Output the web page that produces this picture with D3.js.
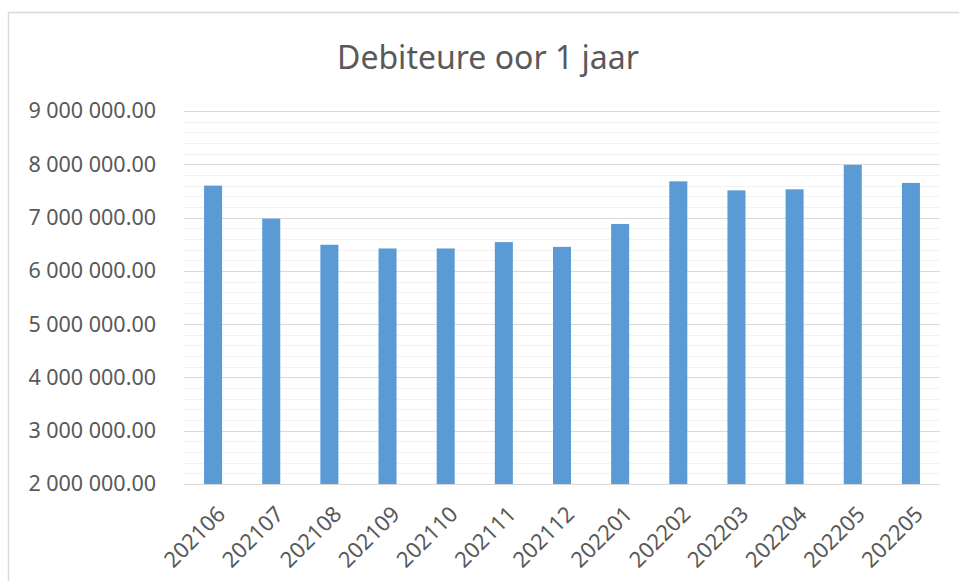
<!DOCTYPE html>
<html>
<head>
<meta charset="utf-8">
<script src="https://cdn.jsdelivr.net/npm/d3@7"></script>
<style>
  body { margin: 0; background: #fff; }
  svg { display: block; font-family: "Noto Sans", "Open Sans", sans-serif; }
</style>
</head>
<body>
<svg width="959" height="581"></svg>
<script>
// data
const months = ["202106", "202107", "202108", "202109", "202110", "202111", "202112",
  "202201", "202202", "202203", "202204", "202205", "202205"];
const debtors = [7600000, 6980000, 6490000, 6420000, 6420000, 6540000, 6450000,
  6880000, 7680000, 7510000, 7530000, 7990000, 7650000];
const yTicks = [2e6, 3e6, 4e6, 5e6, 6e6, 7e6, 8e6, 9e6];

const svg = d3.select("svg");
const width = 959;
const height = 581;

// chart frame
svg.append("rect")
  .attr("x", 8.5).attr("y", 12.5)
  .attr("width", width).attr("height", height)
  .attr("fill", "#fff")
  .attr("stroke", "#d9d9d9")
  .attr("stroke-width", 1.5);

svg.append("text")
  .attr("x", 488).attr("y", 69)
  .attr("text-anchor", "middle")
  .attr("fill", "#595959")
  .style("font-size", "32px")
  .text("Debiteure oor 1 jaar");

const x = d3.scaleBand()
  .domain(d3.range(months.length))
  .range([184, 940])
  .paddingInner(0.69)
  .paddingOuter(0.345);

const y = d3.scaleLinear().domain([2e6, 9e6]).range([484, 111]);

const locale = d3.formatLocale({ decimal: ".", thousands: " ", grouping: [3], currency: ["", ""] });
const fmt = locale.format(",.2f");

// minor gridlines every 200 000
svg.append("g")
  .selectAll("line")
  .data(d3.range(2e6, 9e6 + 1, 2e5).filter(v => v % 1e6 !== 0))
  .join("line")
  .attr("x1", 184).attr("x2", 940)
  .attr("y1", d => Math.round(y(d)) + 0.5)
  .attr("y2", d => Math.round(y(d)) + 0.5)
  .attr("stroke", "#f2f2f2");

// major gridlines
svg.append("g")
  .selectAll("line")
  .data(yTicks)
  .join("line")
  .attr("x1", 184).attr("x2", 940)
  .attr("y1", d => Math.round(y(d)) + 0.5)
  .attr("y2", d => Math.round(y(d)) + 0.5)
  .attr("stroke", "#d9d9d9")
  .attr("stroke-width", 1.2);

// bars
svg.append("g")
  .selectAll("rect")
  .data(debtors)
  .join("rect")
  .attr("x", (d, i) => x(i))
  .attr("y", d => y(d))
  .attr("width", x.bandwidth())
  .attr("height", d => y(2e6) - y(d))
  .attr("fill", "#5b9bd5");

// y axis
const yAxis = svg.append("g")
  .attr("transform", "translate(184,0)")
  .call(d3.axisLeft(y).tickValues(yTicks).tickFormat(fmt).tickSize(0).tickPadding(28));
yAxis.select(".domain").remove();
yAxis.selectAll("text")
  .attr("fill", "#595959")
  .style("font-size", "21.5px")
  .style("font-family", "\"Noto Sans\", sans-serif");

// x axis
const xAxis = svg.append("g")
  .attr("transform", "translate(0,484)")
  .call(d3.axisBottom(x).tickFormat(i => months[i]).tickSize(0));
xAxis.select(".domain").remove();
xAxis.selectAll("text")
  .attr("fill", "#595959")
  .style("font-size", "22px")
  .style("font-family", "\"Noto Sans\", sans-serif")
  .attr("text-anchor", "end")
  .attr("dy", "0.35em")
  .attr("transform", "translate(6,24) rotate(-45)");
</script>
</body>
</html>
